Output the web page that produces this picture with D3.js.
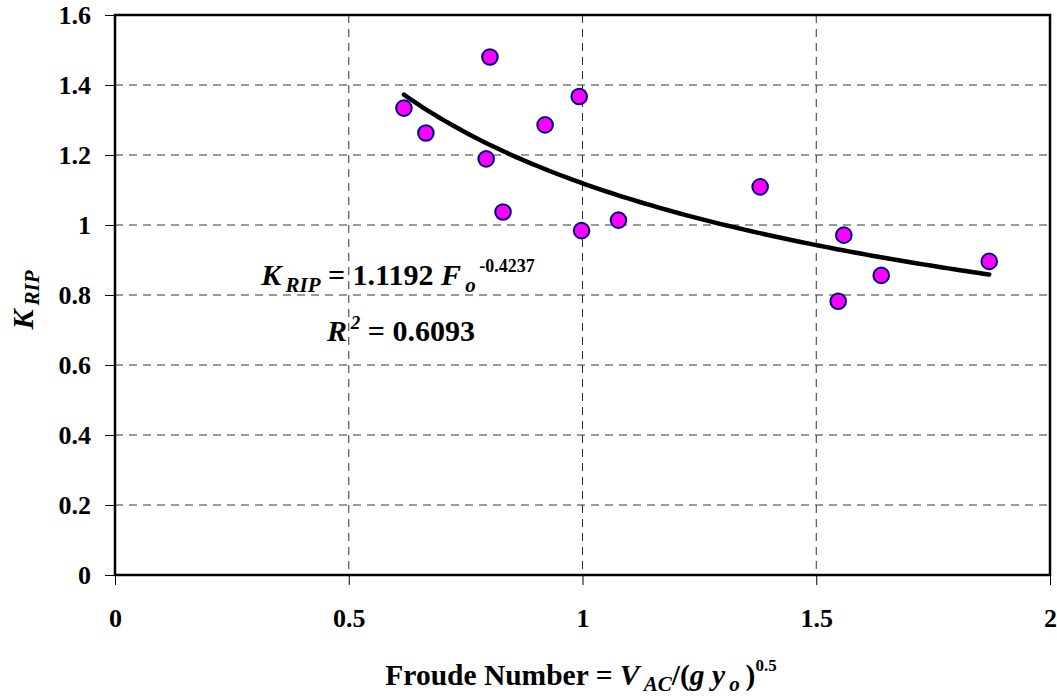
<!DOCTYPE html>
<html>
<head>
<meta charset="utf-8">
<script src="https://cdn.jsdelivr.net/npm/d3@7"></script>
<style>
  html, body { margin: 0; padding: 0; background: #fff; }
  svg { display: block; }
  text { font-family: "Liberation Serif", "Times New Roman", serif; font-weight: bold; fill: #000; }
</style>
</head>
<body>
<svg id="chart" width="1057" height="696"></svg>
<script>
// ---- data ----
const froude = [0.618, 0.665, 0.802, 0.794, 0.830, 0.920, 0.993, 0.998, 1.077, 1.380, 1.559, 1.547, 1.639, 1.870];
const krip   = [1.334, 1.263, 1.480, 1.189, 1.037, 1.286, 1.367, 0.984, 1.014, 1.109, 0.971, 0.782, 0.856, 0.896];
const xTickValues = [0, 0.5, 1, 1.5, 2];
const xTickLabels = ["0", "0.5", "1", "1.5", "2"];
const yTickValues = [0, 0.2, 0.4, 0.6, 0.8, 1, 1.2, 1.4, 1.6];
const yTickLabels = ["0", "0.2", "0.4", "0.6", "0.8", "1", "1.2", "1.4", "1.6"];
const fitCoef = 1.1192;
const fitExp = -0.4237;
const fitR2 = "0.6093";

const FONT = '"Liberation Serif", "Times New Roman", serif';

// ---- layout ----
const svg = d3.select("#chart");
const L = 115, R = 1050, T = 15, B = 575;
const x = d3.scaleLinear().domain([0, 2]).range([L, R]);
const y = d3.scaleLinear().domain([0, 1.6]).range([B, T]);

// gridlines
const grid = svg.append("g").attr("stroke", "#333").attr("stroke-width", 1).attr("stroke-dasharray", "8,6");
grid.selectAll("line.h").data(yTickValues.filter(v => v > 0 && v < 1.6)).enter().append("line")
  .attr("x1", L).attr("x2", R).attr("y1", d => y(d)).attr("y2", d => y(d));
grid.selectAll("line.v").data(xTickValues.filter(v => v > 0 && v < 2)).enter().append("line")
  .attr("y1", T).attr("y2", B).attr("x1", d => x(d)).attr("x2", d => x(d));

// axes
const xAxis = d3.axisBottom(x).tickValues(xTickValues).tickSize(10).tickPadding(24)
  .tickFormat((d, i) => xTickLabels[i]);
const yAxis = d3.axisLeft(y).tickValues(yTickValues).tickSize(10).tickPadding(14)
  .tickFormat((d, i) => yTickLabels[i]);

const gx = svg.append("g").attr("transform", `translate(0,${B})`).call(xAxis);
const gy = svg.append("g").attr("transform", `translate(${L},0)`).call(yAxis);
[gx, gy].forEach(g => {
  g.attr("font-family", null).attr("font-size", null);
  g.select(".domain").remove();
  g.selectAll(".tick line").attr("stroke", "#000").attr("stroke-width", 1);
  g.selectAll(".tick text").style("font-family", FONT)
    .style("font-weight", "bold").style("font-size", "26px").attr("fill", "#000");
});
gy.selectAll(".tick text").attr("dy", "0.34em");
gx.selectAll(".tick text").attr("dy", "0.68em");

// frame
svg.append("rect").attr("x", L).attr("y", T).attr("width", R - L).attr("height", B - T)
  .attr("fill", "none").attr("stroke", "#000").attr("stroke-width", 2.5);

// trend line (power fit)
const ext = d3.extent(froude);
const fitX = d3.range(0, 101).map(i => ext[0] + (ext[1] - ext[0]) * i / 100);
const line = d3.line().x(d => x(d)).y(d => y(fitCoef * Math.pow(d, fitExp)));
svg.append("path").datum(fitX).attr("d", line).attr("fill", "none")
  .attr("stroke", "#000").attr("stroke-width", 4.5).attr("stroke-linecap", "round");

// points
svg.append("g").selectAll("circle").data(froude).enter().append("circle")
  .attr("cx", d => x(d)).attr("cy", (d, i) => y(krip[i])).attr("r", 7.8)
  .attr("fill", "#FF00FF").attr("stroke", "#000080").attr("stroke-width", 2);

// equation annotation
const eq = svg.append("text").attr("x", 398).attr("y", 285).attr("text-anchor", "middle")
  .style("font-family", FONT).style("font-size", "30px").style("font-style", "italic");
eq.append("tspan").text("K");
eq.append("tspan").attr("dy", 7).style("font-size", "21px").text("\u2009RIP");
eq.append("tspan").attr("dy", -7).style("font-style", "normal").text(" = " + fitCoef + " ");
eq.append("tspan").text("F");
eq.append("tspan").attr("dy", 7).style("font-size", "21px").text("\u2009o");
eq.append("tspan").attr("dy", -20).style("font-size", "18px").style("font-style", "normal").text("\u2009" + fitExp);

const r2 = svg.append("text").attr("x", 401).attr("y", 341).attr("text-anchor", "middle")
  .style("font-family", FONT).style("font-size", "30px");
r2.append("tspan").style("font-style", "italic").text("R");
r2.append("tspan").attr("dy", -12).style("font-size", "19px").style("font-style", "italic").text("\u20092");
r2.append("tspan").attr("dy", 12).text(" = " + fitR2);

// x axis title
const xt = svg.append("text").attr("x", 581).attr("y", 685).attr("text-anchor", "middle")
  .style("font-family", FONT).style("font-size", "29.5px");
xt.append("tspan").text("Froude Number = ");
xt.append("tspan").style("font-style", "italic").text("V");
xt.append("tspan").attr("dy", 6).style("font-size", "21px").style("font-style", "italic").text("\u2009AC");
xt.append("tspan").attr("dy", -6).text("/(");
xt.append("tspan").style("font-style", "italic").text("g y");
xt.append("tspan").attr("dy", 6).style("font-size", "21px").style("font-style", "italic").text("\u2009o");
xt.append("tspan").attr("dy", -6).text("\u2009)");
xt.append("tspan").attr("dy", -14).style("font-size", "17px").text("0.5");

// y axis title
const yt = svg.append("text").attr("transform", "translate(33,300) rotate(-90)")
  .attr("text-anchor", "middle").style("font-family", FONT).style("font-size", "30px").style("font-style", "italic");
yt.append("tspan").text("K");
yt.append("tspan").attr("dy", 6).style("font-size", "21px").text("\u2009RIP");
</script>
</body>
</html>
